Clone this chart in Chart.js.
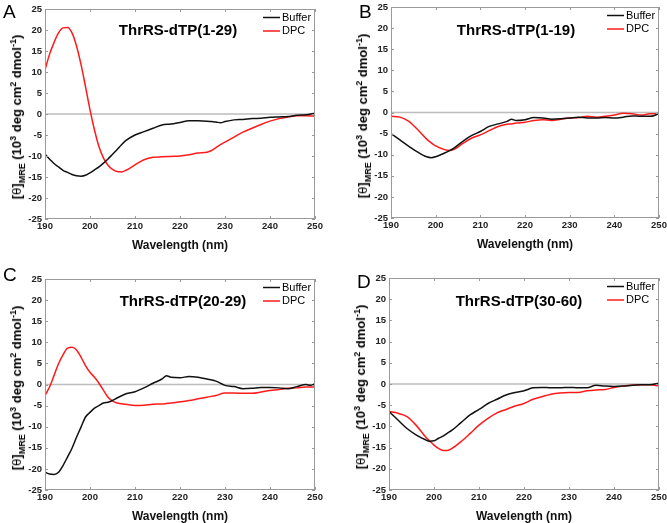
<!DOCTYPE html>
<html>
<head>
<meta charset="utf-8">
<script src="https://cdn.jsdelivr.net/npm/chart.js@4.4.1/dist/chart.umd.min.js"></script>
<style>
body{margin:0;background:#fff;width:667px;height:523px;position:relative;overflow:hidden;font-family:"Liberation Sans",Arial,sans-serif;color:#000}
.wrap{position:absolute}
.letter{position:absolute;font-size:19px;line-height:1}
.ttl{position:absolute;font-weight:bold;font-size:15px;line-height:1;transform:translate(-50%,-50%);white-space:nowrap}
.ylab{position:absolute;font-weight:bold;font-size:13px;line-height:1;white-space:nowrap;transform:translate(-50%,-50%) rotate(-90deg)}
.ylab sub,.ylab sup{font-size:9px}
.ylab .th{font-weight:normal}
</style>
</head>
<body>
<script>
// CD spectra, [θ]MRE in 10^3 deg cm2 dmol-1
const wlA = [190,191,192,193,194,195,196,197,198,199,200,201,202,203,204,205,206,207,208,210,212,214,216,218,220,222,224,226,227,228,229,230,232,234,236,238,240,242,244,246,248,250];
const bufferA = [-9.6,-10.7,-11.8,-12.6,-13.4,-13.9,-14.4,-14.7,-14.8,-14.6,-14.0,-13.3,-12.6,-11.7,-10.7,-9.6,-8.5,-7.3,-6.3,-5.0,-4.2,-3.4,-2.6,-2.4,-2.0,-1.6,-1.6,-1.7,-1.8,-1.9,-2.1,-1.8,-1.4,-1.3,-1.1,-1.0,-0.8,-0.7,-0.6,-0.3,-0.2,0.2];
const dpcA = [10.5,14.2,17.0,19.3,20.5,20.6,19.3,16.2,11.8,6.5,1.0,-3.8,-7.8,-10.5,-12.2,-13.2,-13.7,-13.8,-13.4,-12.1,-10.9,-10.3,-10.2,-10.1,-10.0,-9.7,-9.3,-9.1,-8.7,-8.0,-7.3,-6.7,-5.5,-4.3,-3.4,-2.5,-1.7,-1.1,-0.7,-0.4,-0.4,-0.5];

const wlB = [190,192,194,196,198,199,200,202,203,204,206,208,210,212,214,216,217,218,220,222,224,226,228,230,232,234,236,238,240,242,244,246,248,249,250];
const bufferB = [-5.0,-6.5,-8.0,-9.4,-10.5,-10.7,-10.5,-9.6,-9.1,-8.5,-6.9,-5.5,-4.5,-3.3,-2.7,-2.1,-1.6,-1.9,-1.7,-1.2,-1.3,-1.6,-1.5,-1.3,-1.1,-1.3,-1.3,-1.2,-1.3,-1.1,-0.8,-0.9,-0.9,-0.7,-0.2];
const dpcB = [-0.9,-1.1,-2.1,-4.1,-6.3,-7.2,-7.9,-8.8,-9.0,-8.8,-7.4,-6.1,-5.3,-4.3,-3.3,-2.8,-2.7,-2.5,-2.3,-1.9,-1.7,-1.9,-1.6,-1.3,-1.2,-0.9,-1.1,-0.9,-0.6,-0.2,-0.3,-0.6,-0.3,-0.3,-0.2];

const wlC = [190,191,192,193,194,195,196,197,198,199,200,201,202,203,204,205,206,208,210,212,214,216,217,218,220,222,224,226,228,230,232,234,236,238,240,242,244,246,248,249,250];
const bufferC = [-20.8,-21.2,-21.3,-20.8,-19.2,-17.2,-15.1,-12.5,-10.1,-7.7,-6.6,-5.6,-5.0,-4.4,-4.2,-3.8,-3.2,-2.2,-1.7,-0.8,0.3,1.3,2.1,1.7,1.6,1.9,1.7,1.3,0.8,-0.2,-0.5,-1.0,-0.9,-0.7,-0.7,-0.8,-1.0,-0.5,0.0,-0.2,0.2];
const dpcC = [-2.6,-0.6,2.1,4.9,7.0,8.6,8.8,8.2,6.5,4.5,2.9,1.7,0.3,-1.4,-3.0,-3.9,-4.4,-4.7,-5.0,-4.9,-4.7,-4.6,-4.5,-4.4,-4.1,-3.8,-3.4,-3.0,-2.6,-2.0,-2.0,-2.1,-2.1,-1.8,-1.4,-1.2,-0.9,-0.8,-0.6,-0.6,-0.6];

const wlD = [190,192,194,196,198,199,200,201,202,203,204,206,208,210,212,214,216,218,220,222,224,226,228,230,232,234,236,238,240,242,244,246,248,250];
const bufferD = [-6.5,-8.5,-10.5,-12.0,-13.1,-13.5,-13.4,-12.8,-12.3,-11.6,-10.9,-9.1,-7.3,-6.0,-4.6,-3.6,-2.6,-2.0,-1.6,-0.9,-0.8,-0.9,-0.9,-0.8,-0.9,-0.9,-0.3,-0.5,-0.6,-0.5,-0.3,-0.2,-0.2,0.2];
const dpcD = [-6.5,-6.9,-7.7,-9.7,-12.3,-13.4,-14.4,-15.2,-15.7,-15.7,-15.2,-13.6,-11.7,-9.7,-8.1,-6.8,-6.0,-5.2,-4.6,-3.6,-3.0,-2.4,-2.1,-2.0,-2.0,-1.6,-1.4,-1.3,-0.8,-0.5,-0.3,-0.2,-0.2,-0.5];

const seriesNames = ["Buffer", "DPC"];
const seriesColors = ["#111111", "#ff1a1a"];
const xTitle = "Wavelength (nm)";
const FONT = '"Liberation Sans", Arial, sans-serif';

// plot area placement on the page
const panels = [
    {letter:"A", lx:3, ly:2, left:45, top:9, w:270, h:210, title:"ThrRS-dTP(1-29)", tx:178, ty:29, wl:wlA, buf:bufferA, dpc:dpcA},
    {letter:"B", lx:359, ly:2, left:391, top:7, w:268, h:211, title:"ThrRS-dTP(1-19)", tx:516, ty:29, wl:wlB, buf:bufferB, dpc:dpcB},
    {letter:"C", lx:3, ly:265, left:45, top:279, w:270, h:211, title:"ThrRS-dTP(20-29)", tx:183, ty:300, wl:wlC, buf:bufferC, dpc:dpcC},
    {letter:"D", lx:357, ly:272, left:389, top:278, w:270, h:212, title:"ThrRS-dTP(30-60)", tx:519, ty:300, wl:wlD, buf:bufferD, dpc:dpcD}
];

const PAD_L = 45, PAD_T = 9, PAD_R = 18, PAD_B = 42;

const frame = {
    id: "frame",
    beforeDatasetsDraw(chart) {
        const {ctx, chartArea: a, scales: {y}} = chart;
        const y0 = y.getPixelForValue(0);
        ctx.save();
        ctx.strokeStyle = "#bdbdbd";
        ctx.lineWidth = 1.5;
        ctx.beginPath();
        ctx.moveTo(a.left, y0);
        ctx.lineTo(a.right, y0);
        ctx.stroke();
        ctx.restore();
    },
    afterDatasetsDraw(chart) {
        const {ctx, chartArea: a, scales: {x, y}} = chart;
        ctx.save();
        ctx.strokeStyle = "#9a9a9a";
        ctx.lineWidth = 1;
        ctx.strokeRect(a.left + 0.5, a.top + 0.5, a.right - a.left - 1, a.bottom - a.top - 1);
        ctx.beginPath();
        x.ticks.forEach(t => {
            const px = Math.round(x.getPixelForValue(t.value)) + 0.5;
            ctx.moveTo(px, a.bottom); ctx.lineTo(px, a.bottom - 3);
            ctx.moveTo(px, a.top); ctx.lineTo(px, a.top + 3);
        });
        y.ticks.forEach(t => {
            const py = Math.round(y.getPixelForValue(t.value)) + 0.5;
            ctx.moveTo(a.left, py); ctx.lineTo(a.left + 3, py);
            ctx.moveTo(a.right, py); ctx.lineTo(a.right - 3, py);
        });
        ctx.stroke();

        // legend, top right inside the axes
        ctx.font = "11px " + FONT;
        ctx.textBaseline = "middle";
        chart.data.datasets.forEach((ds, i) => {
            const ly = a.top + 8.5 + i * 13.5;
            ctx.strokeStyle = ds.borderColor;
            ctx.lineWidth = 1.5;
            ctx.beginPath();
            ctx.moveTo(a.right - 52, ly);
            ctx.lineTo(a.right - 35, ly);
            ctx.stroke();
            ctx.fillStyle = "#000";
            ctx.fillText(ds.label, a.right - 33, ly);
        });
        ctx.restore();
    }
};

panels.forEach(p => {
    const W = PAD_L + p.w + PAD_R, H = PAD_T + p.h + PAD_B;
    const wrap = document.createElement("div");
    wrap.className = "wrap";
    wrap.style.left = (p.left - PAD_L) + "px";
    wrap.style.top = (p.top - PAD_T) + "px";
    const cv = document.createElement("canvas");
    cv.width = W; cv.height = H;
    cv.style.width = W + "px"; cv.style.height = H + "px";
    wrap.appendChild(cv);
    document.body.appendChild(wrap);

    const letter = document.createElement("div");
    letter.className = "letter";
    letter.style.left = p.lx + "px";
    letter.style.top = p.ly + "px";
    letter.textContent = p.letter;
    document.body.appendChild(letter);

    const ttl = document.createElement("div");
    ttl.className = "ttl";
    ttl.style.left = p.tx + "px";
    ttl.style.top = p.ty + "px";
    ttl.textContent = p.title;
    document.body.appendChild(ttl);

    const ylab = document.createElement("div");
    ylab.className = "ylab";
    ylab.style.left = (p.left - 27) + "px";
    ylab.style.top = (p.top + p.h / 2 + 3) + "px";
    ylab.innerHTML = '[<span class="th">θ</span>]<sub>MRE</sub> (10<sup>3</sup> deg cm<sup>2</sup> dmol<sup>-1</sup>)';
    document.body.appendChild(ylab);

    const tickFont = {family: FONT, size: 9.5, weight: "bold"};
    new Chart(cv, {
        type: "line",
        data: {
            datasets: [p.buf, p.dpc].map((vals, i) => ({
                label: seriesNames[i],
                data: p.wl.map((w, k) => ({x: w, y: vals[k]})),
                borderColor: seriesColors[i],
                borderWidth: 1.5,
                pointRadius: 0,
                cubicInterpolationMode: "monotone",
                fill: false
            }))
        },
        options: {
            responsive: false,
            animation: false,
            events: [],
            layout: {padding: {top: PAD_T, right: PAD_R, left: 0, bottom: 0}},
            plugins: {legend: {display: false}, tooltip: {enabled: false}},
            scales: {
                x: {
                    type: "linear", min: 190, max: 250,
                    ticks: {stepSize: 10, font: tickFont, color: "#222", padding: 2, maxRotation: 0},
                    grid: {display: false, drawTicks: false},
                    border: {display: false},
                    title: {display: true, text: xTitle, color: "#111",
                        font: {family: FONT, size: 12, weight: "bold"}, padding: {top: 4, bottom: 8}},
                    afterFit(s) { s.height = PAD_B; }
                },
                y: {
                    type: "linear", min: -25, max: 25,
                    ticks: {stepSize: 5, font: tickFont, color: "#222", padding: 3},
                    grid: {display: false, drawTicks: false},
                    border: {display: false},
                    afterFit(s) { s.width = PAD_L; }
                }
            }
        },
        plugins: [frame]
    });
});
</script>
</body>
</html>
